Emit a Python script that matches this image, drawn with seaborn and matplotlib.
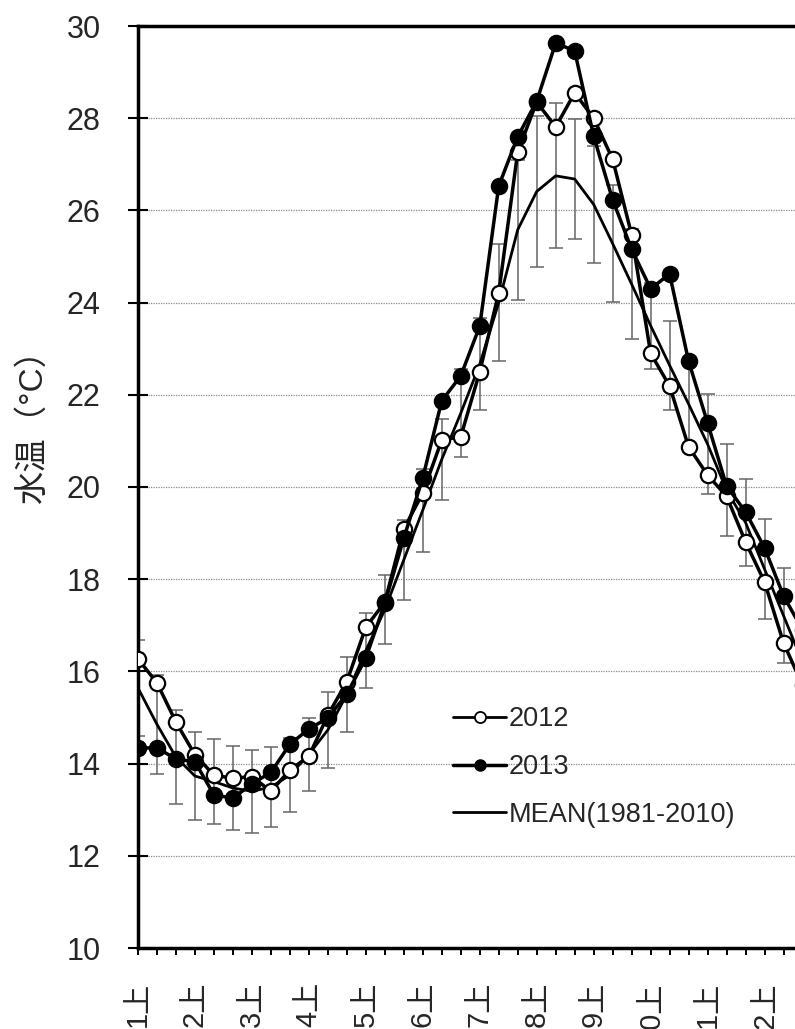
import numpy as np
import matplotlib
matplotlib.use('Agg')
import matplotlib.pyplot as plt
import seaborn as sns
from matplotlib.lines import Line2D

# 旬 (上・中・下) x 12ヶ月 = 36
dekad = np.arange(36)
month_ticks = np.arange(0, 36, 3)
month_labels = [f'{m}上' for m in range(1, 13)]

temp_2012 = [16.27, 15.75, 14.90, 14.19, 13.75, 13.68, 13.72, 13.40, 13.86, 14.16,
             15.05, 15.78, 16.96, 17.50, 19.09, 19.87, 21.02, 21.09, 22.50, 24.21,
             27.27, 28.35, 27.81, 28.55, 28.00, 27.11, 25.47, 22.90, 22.19, 20.87,
             20.26, 19.80, 18.81, 17.94, 16.62, 15.70]
temp_2013 = [14.34, 14.34, 14.10, 14.04, 13.32, 13.25, 13.56, 13.81, 14.42, 14.75,
             14.99, 15.51, 16.29, 17.48, 18.89, 20.20, 21.87, 22.41, 23.49, 26.53,
             27.60, 28.37, 29.63, 29.46, 27.61, 26.23, 25.16, 24.30, 24.62, 22.73,
             21.39, 20.02, 19.46, 18.68, 17.64, 16.90]
mean_8110 = [15.64, 14.85, 14.14, 13.73, 13.61, 13.47, 13.40, 13.49, 13.75, 14.20,
             14.73, 15.50, 16.45, 17.34, 18.42, 19.50, 20.60, 21.60, 22.66, 24.00,
             25.58, 26.41, 26.75, 26.68, 26.13, 25.28, 24.40, 23.50, 22.64, 21.80,
             20.93, 19.93, 19.23, 18.22, 17.21, 16.20]
sd_8110 = [1.05, 1.08, 1.02, 0.96, 0.92, 0.91, 0.90, 0.87, 0.80, 0.80,
           0.82, 0.81, 0.81, 0.75, 0.87, 0.90, 0.88, 0.95, 1.00, 1.27,
           1.52, 1.64, 1.57, 1.30, 1.27, 1.27, 1.20, 0.93, 0.97, 1.00,
           1.08, 1.00, 0.94, 1.08, 1.03, 1.00]

sns.set_style('white')
plt.rcParams['font.family'] = ['Liberation Sans', 'Noto Sans CJK JP']

fig = plt.figure(figsize=(7.95, 10.29), dpi=100)
# 右端は図の外まで伸ばして切る
ax = fig.add_axes([138 / 795, 81 / 1029, 674 / 795, 922 / 1029])

ax.errorbar(dekad, mean_8110, yerr=sd_8110, fmt='none', ecolor='#666666',
            elinewidth=1.1, capsize=5, capthick=1.1, zorder=1)
sns.lineplot(x=dekad, y=mean_8110, color='black', lw=2.0, ax=ax, zorder=2)
sns.lineplot(x=dekad, y=temp_2012, color='black', lw=2.5, marker='o', markersize=11,
             markerfacecolor='white', markeredgecolor='black', markeredgewidth=1.6,
             ax=ax, zorder=3)
sns.lineplot(x=dekad, y=temp_2013, color='black', lw=2.5, marker='o', markersize=11,
             markerfacecolor='black', markeredgecolor='black', markeredgewidth=1.6,
             ax=ax, zorder=4)

ax.set_xlim(0, 35.5)
ax.set_ylim(10, 30)
ax.set_xticks(month_ticks)
ax.set_xticklabels(month_labels, rotation=90)
ax.set_xticks(dekad, minor=True)
ax.set_yticks(np.arange(10, 31, 2))

ax.tick_params(axis='x', which='both', direction='out', length=5, width=1.4,
               bottom=True, color='black')
ax.tick_params(axis='x', which='major', labelsize=21, pad=19)
ax.tick_params(axis='y', which='major', direction='inout', length=14, width=1.5,
               left=True, labelsize=22, pad=20, color='black')

ax.yaxis.grid(True, linestyle=(0, (1, 1)), color='#888888', lw=0.9)
ax.xaxis.grid(False)

for side in ['left', 'bottom', 'top']:
    ax.spines[side].set_linewidth(2.5)
    ax.spines[side].set_color('black')
ax.spines['right'].set_visible(False)

ax.set_xlabel('')
ax.set_ylabel('水温（°C）', fontsize=24)
ax.yaxis.label.set_verticalalignment('center')
ax.yaxis.set_label_coords(-0.156, 0.574)

handles = [
    Line2D([], [], color='black', lw=2, marker='o', markersize=8,
           markerfacecolor='white', markeredgecolor='black', markeredgewidth=1.3),
    Line2D([], [], color='black', lw=2.5, marker='o', markersize=8,
           markerfacecolor='black', markeredgecolor='black'),
    Line2D([], [], color='black', lw=2.0),
]
ax.legend(handles, ['2012', '2013', 'MEAN(1981-2010)'], loc='upper left',
          bbox_to_anchor=(0.468, 0.262), frameon=False, fontsize=19.5,
          handlelength=1.95, handletextpad=0.1, labelspacing=0.8, borderaxespad=0,
          borderpad=0)

fig.savefig('out.png', dpi=100)
